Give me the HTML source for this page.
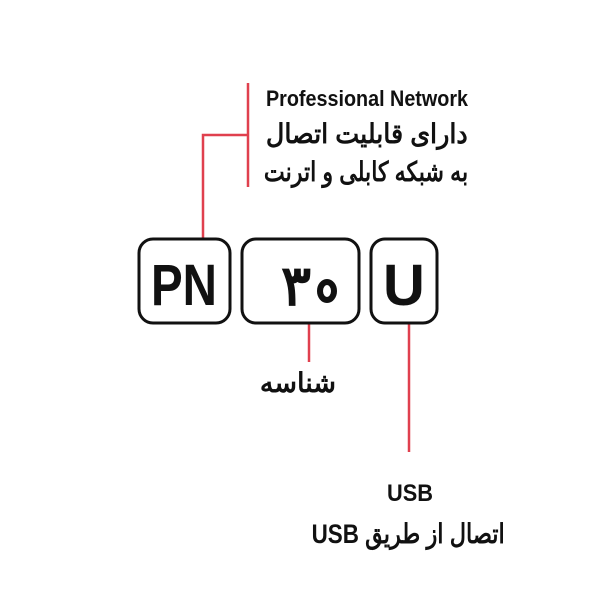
<!DOCTYPE html>
<html><head><meta charset="utf-8"><style>
html,body{margin:0;padding:0;background:#fff;width:600px;height:600px;overflow:hidden;position:relative}
text,.t{font-family:"Liberation Sans Narrow","Liberation Sans","Noto Sans CJK SC",sans-serif;font-weight:bold;fill:#111;color:#111}
.t{position:absolute;direction:rtl;white-space:nowrap;line-height:1;transform-origin:right center}
</style></head><body>
<svg width="600" height="600" viewBox="0 0 600 600" xmlns="http://www.w3.org/2000/svg" style="position:absolute;left:0;top:0">
<g stroke="#e0404e" stroke-width="2.5" fill="none">
<line x1="248" y1="83" x2="248" y2="187"/>
<polyline points="248,135 203,135 203,240"/>
<line x1="309" y1="323" x2="309" y2="362"/>
<line x1="409" y1="323" x2="409" y2="452"/>
</g>
<g stroke="#111" stroke-width="3" fill="#fff">
<rect x="139" y="239" width="91" height="84" rx="14"/>
<rect x="242" y="239" width="117" height="84" rx="14"/>
<rect x="371" y="239" width="66" height="84" rx="14"/>
</g>
<text x="184" y="305" font-size="58" text-anchor="middle" textLength="66" lengthAdjust="spacingAndGlyphs">PN</text>
<text x="296" y="305" font-size="56" text-anchor="middle">۳</text>
<ellipse cx="327" cy="291" rx="7" ry="9" fill="none" stroke="#111" stroke-width="6"/>
<text x="404" y="305" font-size="58" text-anchor="middle">U</text>
<text x="266" y="106" font-size="22" textLength="202" lengthAdjust="spacingAndGlyphs">Professional Network</text>
<text x="410" y="501" font-size="24" text-anchor="middle" textLength="46" lengthAdjust="spacingAndGlyphs">USB</text>
</svg>
<div class="t" style="right:132px;top:121px;font-size:27px;transform:scaleX(0.94)">دارای قابلیت اتصال</div>
<div class="t" style="right:132px;top:159px;font-size:27px;transform:scaleX(0.82)">به شبکه کابلی و اترنت</div>
<div class="t" style="right:264px;top:370px;font-size:27px">شناسه</div>
<div class="t" style="right:95px;top:521px;font-size:27px;transform:scaleX(0.83)">اتصال از طریق USB</div>
</body></html>
